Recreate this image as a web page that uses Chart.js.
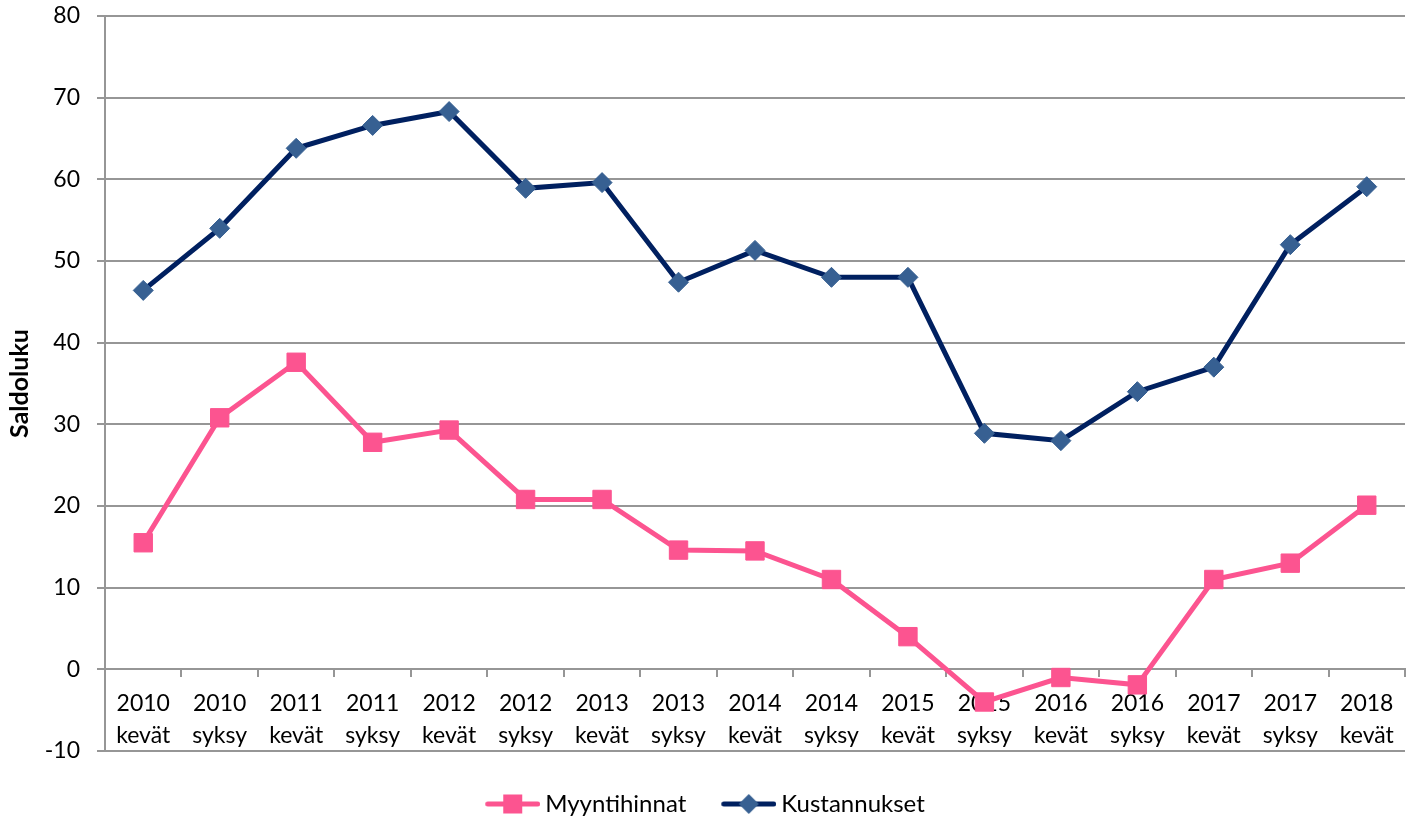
<!DOCTYPE html>
<html>
<head>
<meta charset="utf-8">
<script src="https://cdn.jsdelivr.net/npm/chart.js@4"></script>
<style>
html,body{margin:0;padding:0;background:#fff;}
#wrap{width:1408px;height:819px;position:relative;}
</style>
</head>
<body>
<div id="wrap"><canvas id="c"></canvas></div>
<script>
// ---- data ----
const categories = [
  ['2010','kevät'],['2010','syksy'],['2011','kevät'],['2011','syksy'],
  ['2012','kevät'],['2012','syksy'],['2013','kevät'],['2013','syksy'],
  ['2014','kevät'],['2014','syksy'],['2015','kevät'],['2015','syksy'],
  ['2016','kevät'],['2016','syksy'],['2017','kevät'],['2017','syksy'],
  ['2018','kevät']
];
const myyntihinnat = [15.5, 30.8, 37.6, 27.8, 29.3, 20.8, 20.8, 14.6, 14.5, 11.0, 4.0, -4.0, -1.0, -1.9, 11.0, 13.0, 20.1];
const kustannukset = [46.4, 54.0, 63.8, 66.6, 68.3, 58.9, 59.6, 47.4, 51.3, 48.0, 48.0, 28.9, 28.0, 34.0, 37.0, 52.0, 59.1];
const seriesNames = ['Myyntihinnat', 'Kustannukset'];
const yMin = -10, yMax = 80, yStep = 10;
const yTitle = 'Saldoluku';

// ---- styles ----
const PINK = '#FC5490';
const NAVY = '#002060';
const DIAMOND = '#376092';
const GRID = '#969696';
const FONT = 'Lato';

function legendImage(kind) {
  // line sample 55px long, right part of a 67px wide transparent canvas
  const w = 67, h = 24, x0 = 12, x1 = 67;
  const c = document.createElement('canvas');
  c.width = w; c.height = h;
  const g = c.getContext('2d');
  g.lineCap = 'round';
  g.lineWidth = 5;
  g.strokeStyle = kind === 'pink' ? PINK : NAVY;
  g.beginPath(); g.moveTo(x0 + 2.5, h/2); g.lineTo(x1 - 2.5, h/2); g.stroke();
  const cx = (x0 + x1)/2, cy = h/2;
  if (kind === 'pink') {
    g.fillStyle = PINK;
    g.fillRect(cx - 9.5, cy - 9.5, 19, 19);
  } else {
    g.fillStyle = DIAMOND;
    g.beginPath();
    g.moveTo(cx - 10, cy); g.lineTo(cx, cy - 10); g.lineTo(cx + 10, cy); g.lineTo(cx, cy + 10);
    g.closePath(); g.fill();
  }
  return c;
}

function build() {
  const legendImgs = [legendImage('pink'), legendImage('navy')];
  new Chart(document.getElementById('c'), {
    type: 'line',
    data: {
      labels: categories,
      datasets: [
        {
          label: seriesNames[0],
          data: myyntihinnat,
          borderColor: PINK,
          backgroundColor: PINK,
          borderWidth: 5,
          pointStyle: 'rect',
          pointRadius: 13,
          pointHoverRadius: 13,
          pointBorderWidth: 1,
          pointBorderColor: PINK,
          pointBackgroundColor: PINK,
          tension: 0,
          fill: false,
          clip: false
        },
        {
          label: seriesNames[1],
          data: kustannukset,
          borderColor: NAVY,
          backgroundColor: DIAMOND,
          borderWidth: 5,
          pointStyle: 'rectRot',
          pointRadius: 10,
          pointHoverRadius: 10,
          pointBorderWidth: 1,
          pointBorderColor: DIAMOND,
          pointBackgroundColor: DIAMOND,
          tension: 0,
          fill: false,
          clip: false
        }
      ]
    },
    options: {
      responsive: true,
      maintainAspectRatio: false,
      animation: false,
      devicePixelRatio: 1,
      layout: { autoPadding: false, padding: { top: 16, right: 3, left: 0, bottom: -7 } },
      plugins: {
        tooltip: { enabled: false },
        legend: {
          position: 'bottom',
          title: {
            display: true,
            text: ' ',
            padding: 0,
            font: { family: FONT, size: 11, lineHeight: 1 }
          },
          labels: {
            usePointStyle: true,
            pointStyleWidth: 53,
            padding: 30,
            color: '#000',
            font: { family: FONT, size: 24 },
            generateLabels: (chart) => chart.data.datasets.map((ds, i) => ({
              text: ds.label,
              pointStyle: legendImgs[i],
              fillStyle: 'rgba(0,0,0,0)',
              strokeStyle: 'rgba(0,0,0,0)',
              lineWidth: 0,
              hidden: false,
              datasetIndex: i,
              fontColor: '#000'
            }))
          }
        }
      },
      scales: {
        x: {
          type: 'category',
          position: { y: 0 },
          offset: true,
          afterFit: (scale) => { scale.paddingLeft = 0; scale.paddingRight = 0; },
          grid: {
            offset: true,
            drawOnChartArea: false,
            drawTicks: true,
            tickLength: 7,
            color: GRID,
            lineWidth: 2
          },
          border: { display: true, color: GRID, width: 2 },
          ticks: {
            autoSkip: false,
            maxRotation: 0,
            minRotation: 0,
            padding: 12,
            color: '#000',
            font: { family: FONT, size: 23, lineHeight: 1.36 }
          }
        },
        y: {
          min: yMin,
          max: yMax,
          afterFit: (scale) => { scale.width = 105; scale.paddingTop = 0; scale.paddingBottom = 0; },
          grid: {
            color: GRID,
            lineWidth: 2,
            tickLength: 8,
            drawTicks: true
          },
          border: { display: true, color: GRID, width: 2 },
          ticks: {
            stepSize: yStep,
            padding: 17,
            color: '#000',
            font: { family: FONT, size: 23 }
          },
          title: {
            display: true,
            text: yTitle,
            color: '#000',
            font: { family: FONT, size: 25, weight: 'bold', lineHeight: 1.2 },
            padding: { top: 5, bottom: 0 }
          }
        }
      }
    }
  });
}

if (document.fonts && document.fonts.load) {
  Promise.all([
    document.fonts.load('23px Lato'),
    document.fonts.load('bold 25px Lato')
  ]).then(build, build);
} else {
  build();
}
</script>
</body>
</html>
